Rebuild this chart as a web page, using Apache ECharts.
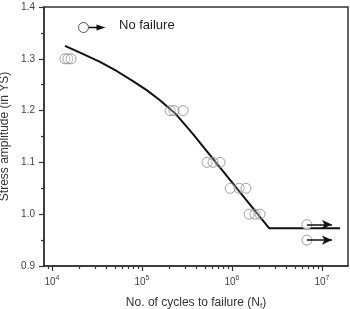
<!DOCTYPE html>
<html>
<head>
<meta charset="utf-8">
<script src="https://cdn.jsdelivr.net/npm/echarts@6/dist/echarts.min.js"></script>
<style>
  html, body { margin: 0; padding: 0; background: #fff; }
  #chart { width: 350px; height: 309px; }
</style>
</head>
<body>
<div id="chart"></div>
<script>
  // 试验点 (应力幅, 循环次数)
  var failCycles = [13900, 15000, 16300, 205000, 227000, 286000, 527000, 615000, 736000,
                    955000, 1200000, 1430000, 1550000, 1800000, 2050000];
  var failStress = [1.30, 1.30, 1.30, 1.20, 1.20, 1.20, 1.10, 1.10, 1.10,
                    1.05, 1.05, 1.05, 1.00, 1.00, 1.00];
  // 未失效 (runout)
  var runoutCycles = [6800000, 6800000];
  var runoutStress = [0.98, 0.95];
  var runoutArrowEnd = [12900000, 12900000];
  // 拟合曲线
  var curveCycles = [13940, 20480, 34150, 52760, 79430, 113700, 158500, 232600, 359400, 569600,
                     2580000, 15850000];
  var curveStress = [1.325, 1.312, 1.294, 1.276, 1.257, 1.239, 1.220, 1.195, 1.157, 1.114,
                     0.973, 0.973];
  // 坐标轴
  var yTicks = [0.9, 1.0, 1.1, 1.2, 1.3, 1.4];
  var xDecades = [4, 5, 6, 7];

  var lg = Math.log10;
  var xMin = 3.911, xMax = 7.289;
  var minorTicks = [];
  for (var d = 3; d <= 7; d++) {
    for (var k = 2; k <= 9; k++) {
      var v = lg(k * Math.pow(10, d));
      if (v > xMin && v < xMax) minorTicks.push(v);
    }
  }

  var failData = failCycles.map(function (n, i) { return [lg(n), failStress[i]]; });
  var runoutData = runoutCycles.map(function (n, i) { return [lg(n), runoutStress[i]]; });
  var curveData = curveCycles.map(function (n, i) { return [lg(n), curveStress[i]]; });
  var arrowLines = runoutCycles.map(function (n, i) {
    return [{ coord: [lg(n), runoutStress[i]] }, { coord: [lg(runoutArrowEnd[i]), runoutStress[i]] }];
  });

  var font = 'Liberation Sans';
  var myChart = echarts.init(document.getElementById('chart'));
  var option = {
    animation: false,
    textStyle: { fontFamily: font },
    grid: {
      left: 44, right: 2, top: 7, bottom: 43,
      outerBoundsMode: 'none', containLabel: false,
      show: true, borderColor: '#333', borderWidth: 1.5
    },
    xAxis: [
      {
        type: 'value', min: xMin, max: xMax,
        splitLine: { show: false },
        axisLine: { lineStyle: { color: '#333', width: 1.5 } },
        axisTick: { customValues: xDecades, length: 5, lineStyle: { color: '#333', width: 1.2 } },
        axisLabel: {
          customValues: xDecades,
          color: '#444', fontSize: 10, margin: 9,
          formatter: function (v) { return '10{s|' + Math.round(v) + '}'; },
          rich: { s: { fontSize: 7, verticalAlign: 'top', padding: [0, 0, 7, 0], color: '#444' } }
        },
        name: 'No. of cycles to failure (N{sub|f})',
        nameLocation: 'middle', nameGap: 30,
        nameTextStyle: {
          color: '#333', fontSize: 12,
          rich: { sub: { fontSize: 8, verticalAlign: 'bottom', padding: [6, 0, 0, 0], color: '#333' } }
        }
      },
      {
        type: 'value', min: xMin, max: xMax, position: 'bottom',
        splitLine: { show: false },
        axisLine: { show: false },
        axisLabel: { show: false },
        axisTick: { customValues: minorTicks, length: 3, lineStyle: { color: '#333', width: 1.2 } }
      }
    ],
    yAxis: {
      type: 'value', min: 0.9, max: 1.4, interval: 0.1,
      splitLine: { show: false },
      axisLine: { show: true, lineStyle: { color: '#333', width: 1.5 } },
      axisTick: { show: true, length: 5, lineStyle: { color: '#333', width: 1.2 } },
      minorTick: { show: true, splitNumber: 2, length: 3, lineStyle: { color: '#333', width: 1.2 } },
      axisLabel: {
        color: '#444', fontSize: 10, margin: 9,
        formatter: function (v) { return v.toFixed(1); }
      },
      name: 'Stress amplitude (in YS)',
      nameLocation: 'middle', nameGap: 30,
      nameTextStyle: { color: '#333', fontSize: 12 }
    },
    series: [
      {
        type: 'line', data: curveData, showSymbol: false, symbol: 'none',
        lineStyle: { color: '#111', width: 2, join: 'round' }, z: 2
      },
      {
        type: 'scatter', data: failData, symbol: 'circle', symbolSize: 10,
        itemStyle: { color: 'rgba(255,255,255,0.2)', borderColor: '#888', borderWidth: 1 }, z: 3
      },
      {
        type: 'scatter', data: runoutData, symbol: 'circle', symbolSize: 10,
        itemStyle: { color: '#fff', borderColor: '#888', borderWidth: 1 }, z: 4,
        markLine: {
          silent: true, symbol: ['none', 'arrow'], symbolSize: [7, 10],
          label: { show: false },
          lineStyle: { color: '#111', width: 1.5, type: 'solid' },
          data: arrowLines
        }
      }
    ],
    graphic: [
      {
        type: 'group', left: 78, top: 22,
        children: [
          { type: 'line', shape: { x1: 10, y1: 5, x2: 20, y2: 5 }, style: { stroke: '#111', lineWidth: 1.5 } },
          { type: 'polygon', shape: { points: [[18, 2], [27, 5], [18, 8]] }, style: { fill: '#111' } },
          { type: 'circle', shape: { cx: 5, cy: 5, r: 5 }, style: { fill: '#fff', stroke: '#555', lineWidth: 1 } }
        ]
      },
      {
        type: 'text', left: 119, top: 19,
        style: { text: 'No failure', fill: '#222', font: '13px "Liberation Sans"' }
      }
    ]
  };
  myChart.setOption(option);
</script>
</body>
</html>
